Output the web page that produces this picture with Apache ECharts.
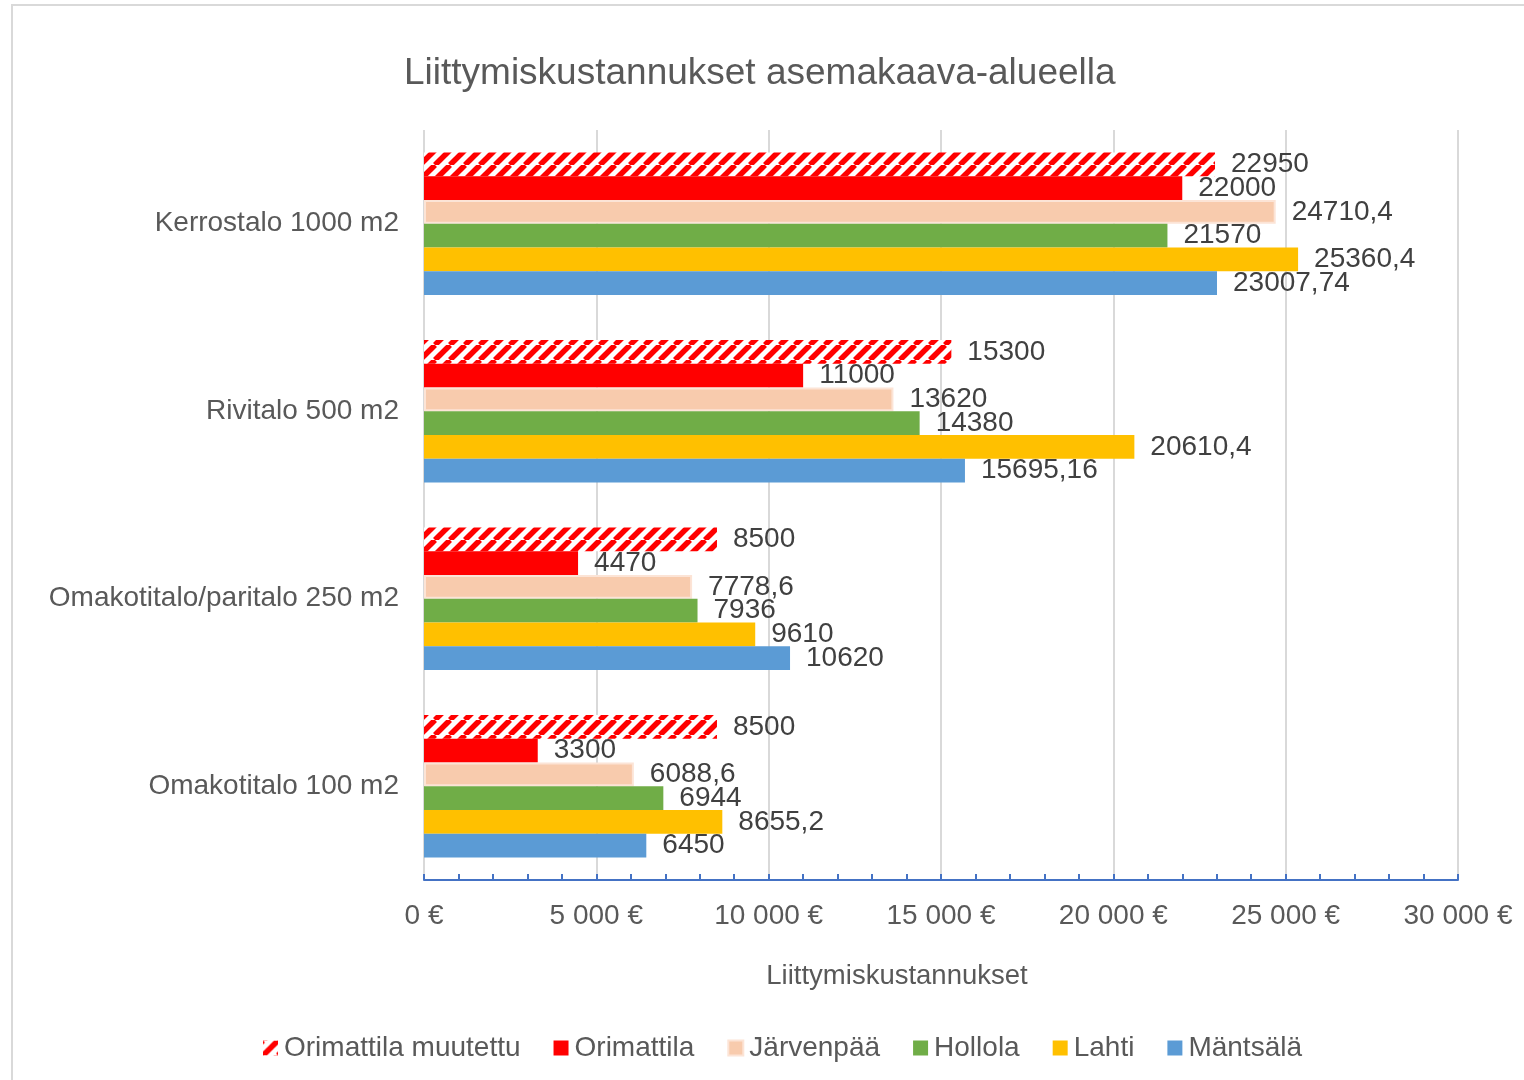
<!DOCTYPE html>
<html>
<head>
<meta charset="utf-8">
<script src="https://cdn.jsdelivr.net/npm/echarts@6/dist/echarts.min.js"></script>
<style>
  html, body { margin: 0; padding: 0; background: #fff; }
  #chart { width: 1524px; height: 1080px; }
</style>
</head>
<body>
<div id="chart"></div>
<script>
// categories, bottom to top as on the axis
const categories = ['Omakotitalo 100 m2', 'Omakotitalo/paritalo 250 m2', 'Rivitalo 500 m2', 'Kerrostalo 1000 m2']
const seriesNames = ['Orimattila muutettu', 'Orimattila', 'Järvenpää', 'Hollola', 'Lahti', 'Mäntsälä']

const orimattilaMuutettu = [8500, 8500, 15300, 22950]
const orimattila = [3300, 4470, 11000, 22000]
const jarvenpaa = [6088.6, 7778.6, 13620, 24710.4]
const hollola = [6944, 7936, 14380, 21570]
const lahti = [8655.2, 9610, 20610.4, 25360.4]
const mantsala = [6450, 10620, 15695.16, 23007.74]

const xMin = 0
const xMax = 30000
const xStep = 5000

const FONT = '"Liberation Sans", Arial, sans-serif'
const GREY = '#595959'

// red diagonal hatch for "muutettu"
function makeHatch() {
  const p = 15
  const c = document.createElement('canvas')
  c.width = p
  c.height = p
  const ctx = c.getContext('2d')
  ctx.fillStyle = '#fff'
  ctx.fillRect(0, 0, p, p)
  ctx.strokeStyle = '#ff0000'
  ctx.lineWidth = 5.5
  for (const k of [-p, 0, p]) {
    ctx.beginPath()
    ctx.moveTo(k, p)
    ctx.lineTo(k + p, 0)
    ctx.stroke()
  }
  return c
}

const fmtValue = v => String(v).replace('.', ',')
const fmtTick = v => String(v).replace(/\B(?=(\d{3})+(?!\d))/g, ' ') + ' €'

const chart = echarts.init(document.getElementById('chart'))

const label = {
  show: true,
  position: 'right',
  distance: 16,
  color: '#404040',
  fontFamily: FONT,
  fontSize: 28,
  formatter: p => fmtValue(p.value)
}

function bar(name, data, itemStyle) {
  return {
    name,
    type: 'bar',
    data,
    barGap: '0%',
    barCategoryGap: '24%',
    itemStyle,
    label,
    emphasis: { disabled: true }
  }
}

const option = {
  animation: false,
  backgroundColor: '#fff',
  graphic: [{
    type: 'rect',
    shape: { x: 12, y: 5, width: 1540, height: 1100 },
    style: { fill: 'none', stroke: '#d9d9d9', lineWidth: 2 },
    silent: true
  }],
  title: {
    text: 'Liittymiskustannukset asemakaava-alueella',
    left: 399,
    top: 50,
    textStyle: { color: GREY, fontFamily: FONT, fontSize: 37, fontWeight: 'normal' }
  },
  legend: {
    data: seriesNames,
    left: 258,
    top: 1029,
    itemWidth: 15,
    itemHeight: 15,
    itemGap: 33,
    icon: 'rect',
    textStyle: { color: GREY, fontFamily: FONT, fontSize: 28, padding: [0, 0, 0, 1] }
  },
  grid: {
    left: 424,
    right: 66,
    top: 130,
    bottom: 200
  },
  xAxis: {
    type: 'value',
    min: xMin,
    max: xMax,
    interval: xStep,
    name: 'Liittymiskustannukset',
    nameLocation: 'middle',
    nameGap: 82,
    nameTextStyle: { color: GREY, fontFamily: FONT, fontSize: 27.5, padding: [0, 88, 0, 0] },
    axisLine: { show: true, lineStyle: { color: '#4472c4', width: 2 } },
    axisTick: { show: true, inside: true, length: 6, lineStyle: { color: '#4472c4', width: 2 } },
    minorTick: { show: true, splitNumber: 5, length: 6, lineStyle: { color: '#4472c4', width: 2 } },
    axisLabel: { color: GREY, fontFamily: FONT, fontSize: 28, margin: 22, formatter: fmtTick },
    splitLine: { show: true, lineStyle: { color: '#d9d9d9', width: 2 } }
  },
  yAxis: {
    type: 'category',
    data: categories,
    axisLine: { show: false },
    axisTick: { show: false },
    axisLabel: { color: GREY, fontFamily: FONT, fontSize: 28, margin: 25 }
  },
  series: [
    bar('Orimattila muutettu', orimattilaMuutettu, { color: { image: makeHatch(), repeat: 'repeat' } }),
    bar('Orimattila', orimattila, { color: '#ff0000' }),
    bar('Järvenpää', jarvenpaa, { color: '#f8cbad', borderColor: '#fce4d6', borderWidth: 2 }),
    bar('Hollola', hollola, { color: '#70ad47' }),
    bar('Lahti', lahti, { color: '#ffc000' }),
    bar('Mäntsälä', mantsala, { color: '#5b9bd5' })
  ]
}

chart.setOption(option)
</script>
</body>
</html>
